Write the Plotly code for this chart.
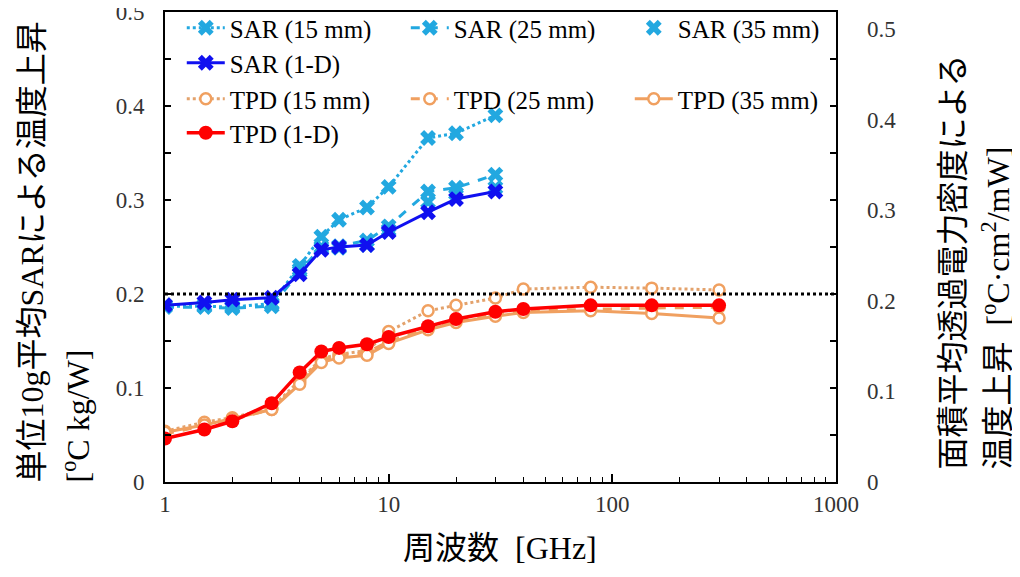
import plotly.graph_objects as go

# ---- data ----
sar_freq = [1, 1.5, 2, 3, 4, 5, 6, 8, 10, 15, 20, 30]
sar_15 = [0.187, 0.187, 0.186, 0.190, 0.230, 0.261, 0.279, 0.292, 0.314, 0.366, 0.371, 0.390]
sar_25 = [0.186, 0.186, 0.185, 0.187, 0.224, 0.250, 0.251, 0.257, 0.272, 0.309, 0.313, 0.327]
sar_35 = [0.188, 0.188, 0.187, 0.189, 0.226, 0.248, 0.249, 0.252, 0.268, 0.298, 0.307, 0.313]
sar_1d = [0.188, 0.191, 0.194, 0.196, 0.221, 0.247, 0.250, 0.252, 0.266, 0.287, 0.301, 0.309]

tpd_freq = [1, 1.5, 2, 3, 4, 5, 6, 8, 10, 15, 20, 30, 40, 80, 150, 300]
tpd_15 = [0.056, 0.066, 0.071, 0.082, 0.112, 0.136, 0.141, 0.145, 0.166, 0.189, 0.195, 0.203, 0.213, 0.215, 0.214, 0.212]
tpd_25 = [0.053, 0.062, 0.069, 0.080, 0.110, 0.134, 0.139, 0.143, 0.155, 0.170, 0.178, 0.185, 0.189, 0.191, 0.192, 0.193]
tpd_35 = [0.055, 0.063, 0.070, 0.080, 0.108, 0.132, 0.137, 0.140, 0.153, 0.168, 0.176, 0.183, 0.187, 0.189, 0.186, 0.181]
tpd_1d = [0.048, 0.058, 0.067, 0.087, 0.121, 0.144, 0.148, 0.152, 0.160, 0.172, 0.180, 0.188, 0.191, 0.195, 0.195, 0.195]

threshold = 0.2
x_ticks = [1, 10, 100, 1000]
y_ticks = [0, 0.1, 0.2, 0.3, 0.4, 0.5]
y_tick_text = ["0", "0.1", "0.2", "0.3", "0.4", "0.5"]

LIGHT_BLUE = "#22A8E0"
BLUE = "#1010F0"
ORANGE = "#F0A060"
ORANGE_DOT = "#E3A26C"
RED = "#FF0000"
SERIF = "Liberation Serif"
MIXED = "Liberation Serif, Noto Sans CJK JP"
TICK_COLOR = "#333333"

fig = go.Figure()

xm = dict(symbol="x", size=14, line=dict(width=0))

fig.add_trace(go.Scatter(x=sar_freq, y=sar_15, name="SAR (15 mm)", mode="lines+markers",
                         line=dict(color=LIGHT_BLUE, width=3, dash="dot"),
                         marker=dict(color=LIGHT_BLUE, **xm), legend="legend"))
fig.add_trace(go.Scatter(x=sar_freq, y=sar_25, name="SAR (25 mm)", mode="lines+markers",
                         line=dict(color=LIGHT_BLUE, width=3, dash="dash"),
                         marker=dict(color=LIGHT_BLUE, **xm), legend="legend"))
fig.add_trace(go.Scatter(x=sar_freq, y=sar_35, name="SAR (35 mm)", mode="markers",
                         marker=dict(color=LIGHT_BLUE, **xm), legend="legend"))
fig.add_trace(go.Scatter(x=sar_freq, y=sar_1d, name="SAR (1-D)", mode="lines+markers",
                         line=dict(color=BLUE, width=3),
                         marker=dict(color=BLUE, **xm), legend="legend2"))

om = dict(symbol="circle", size=11, color="white")
fig.add_trace(go.Scatter(x=tpd_freq, y=tpd_15, name="TPD (15 mm)", mode="lines+markers", yaxis="y2",
                         line=dict(color=ORANGE_DOT, width=3, dash="dot"),
                         marker=dict(line=dict(color=ORANGE, width=2.5), **om), legend="legend3"))
fig.add_trace(go.Scatter(x=tpd_freq, y=tpd_25, name="TPD (25 mm)", mode="lines+markers", yaxis="y2",
                         line=dict(color=ORANGE, width=3, dash="dash"),
                         marker=dict(line=dict(color=ORANGE, width=2.5), **om), legend="legend3"))
fig.add_trace(go.Scatter(x=tpd_freq, y=tpd_35, name="TPD (35 mm)", mode="lines+markers", yaxis="y2",
                         line=dict(color=ORANGE, width=3),
                         marker=dict(line=dict(color=ORANGE, width=2.5), **om), legend="legend3"))
fig.add_trace(go.Scatter(x=tpd_freq, y=tpd_1d, name="TPD (1-D)", mode="lines+markers", yaxis="y2",
                         line=dict(color=RED, width=3.5),
                         marker=dict(symbol="circle", size=14, color=RED), legend="legend4"))

fig.add_shape(type="line", xref="paper", yref="y", x0=0, x1=1, y0=threshold, y1=threshold,
              line=dict(color="black", width=3, dash="dot"))

# page is rendered with an 8px body margin: plot area spans page x 165..836, y 12..482
OFF = 8
L = 165
PW = 671
PH = 470
FIG_W = 1020 - OFF
FIG_H = 577 - OFF


def px_to_paper_y(py):
    return (482 - py) / PH


def px_to_paper_x(px):
    return (px - L) / PW


legend_common = dict(orientation="h", font=dict(family=SERIF, size=25, color="black"),
                     bgcolor="rgba(0,0,0,0)", entrywidth=171, entrywidthmode="pixels",
                     xanchor="left", yanchor="middle", x=0.025, tracegroupgap=0, itemwidth=38)

fig.update_layout(
    width=FIG_W, height=FIG_H,
    margin=dict(l=L - OFF, r=FIG_W - (L - OFF) - PW, t=12 - OFF, b=FIG_H - (12 - OFF) - PH,
                autoexpand=False),
    paper_bgcolor="white", plot_bgcolor="white",
    showlegend=True,
    legend=dict(y=px_to_paper_y(28), **legend_common),
    legend2=dict(y=px_to_paper_y(63), **legend_common),
    legend3=dict(y=px_to_paper_y(99), **legend_common),
    legend4=dict(y=px_to_paper_y(133), **legend_common),
    xaxis=dict(type="log", range=[0, 3], tickvals=x_ticks, ticktext=[str(v) for v in x_ticks],
               ticks="inside", ticklen=8, tickwidth=1.5, tickcolor="black",
               showline=True, linecolor="black", linewidth=2, mirror=True,
               showgrid=False, zeroline=False, ticklabeloverflow="allow",
               tickfont=dict(family=SERIF, size=23, color=TICK_COLOR),
               minor=dict(ticks="inside", ticklen=5, tickwidth=1.2, tickcolor="black", showgrid=False,
                          tickvals=[2, 3, 4, 5, 6, 7, 8, 9, 20, 30, 40, 50, 60, 70, 80, 90,
                                    200, 300, 400, 500, 600, 700, 800, 900])),
    yaxis=dict(range=[0, 0.5], tickvals=y_ticks, ticktext=y_tick_text,
               ticks="inside", ticklen=6, tickwidth=1.5, tickcolor="black",
               showline=True, linecolor="black", linewidth=2, mirror="ticks",
               showgrid=False, zeroline=False, ticklabelstandoff=14, ticklabeloverflow="allow",
               tickfont=dict(family=SERIF, size=23, color=TICK_COLOR),
               minor=dict(ticks="inside", ticklen=6, tickwidth=1.5, tickcolor="black",
                          dtick=0.05, showgrid=False)),
    yaxis2=dict(range=[0, 0.5188], overlaying="y", side="right", tickvals=y_ticks,
                ticktext=y_tick_text, ticks="",
                showline=False, showgrid=False, zeroline=False, ticklabelstandoff=30,
                ticklabeloverflow="allow",
                tickfont=dict(family=SERIF, size=23, color=TICK_COLOR)),
)

# axis titles as annotations
fig.add_annotation(text="単位10g平均SARによる温度上昇", textangle=-90, showarrow=False,
                   xref="paper", yref="paper", x=px_to_paper_x(31), y=px_to_paper_y(485),
                   xanchor="center", yanchor="bottom", font=dict(family=MIXED, size=32, color="black"))
fig.add_annotation(text="[<sup>o</sup>C kg/W]", textangle=-90, showarrow=False,
                   xref="paper", yref="paper", x=px_to_paper_x(75), y=px_to_paper_y(485),
                   xanchor="center", yanchor="bottom", font=dict(family=MIXED, size=32, color="black"))
fig.add_annotation(text="面積平均透過電力密度による", textangle=-90, showarrow=False,
                   xref="paper", yref="paper", x=px_to_paper_x(952), y=px_to_paper_y(472),
                   xanchor="center", yanchor="bottom", font=dict(family=MIXED, size=32, color="black"))
fig.add_annotation(text="温度上昇 &nbsp;[<sup>o</sup>C·cm<sup>2</sup>/mW]", textangle=-90, showarrow=False,
                   xref="paper", yref="paper", x=px_to_paper_x(995), y=px_to_paper_y(472),
                   xanchor="center", yanchor="bottom", font=dict(family=MIXED, size=32, color="black"))
fig.add_annotation(text="周波数 &nbsp;[GHz]", showarrow=False,
                   xref="paper", yref="paper", x=px_to_paper_x(500), y=px_to_paper_y(548),
                   xanchor="center", yanchor="middle", font=dict(family=MIXED, size=32, color="black"))

fig.write_html("out.html")
